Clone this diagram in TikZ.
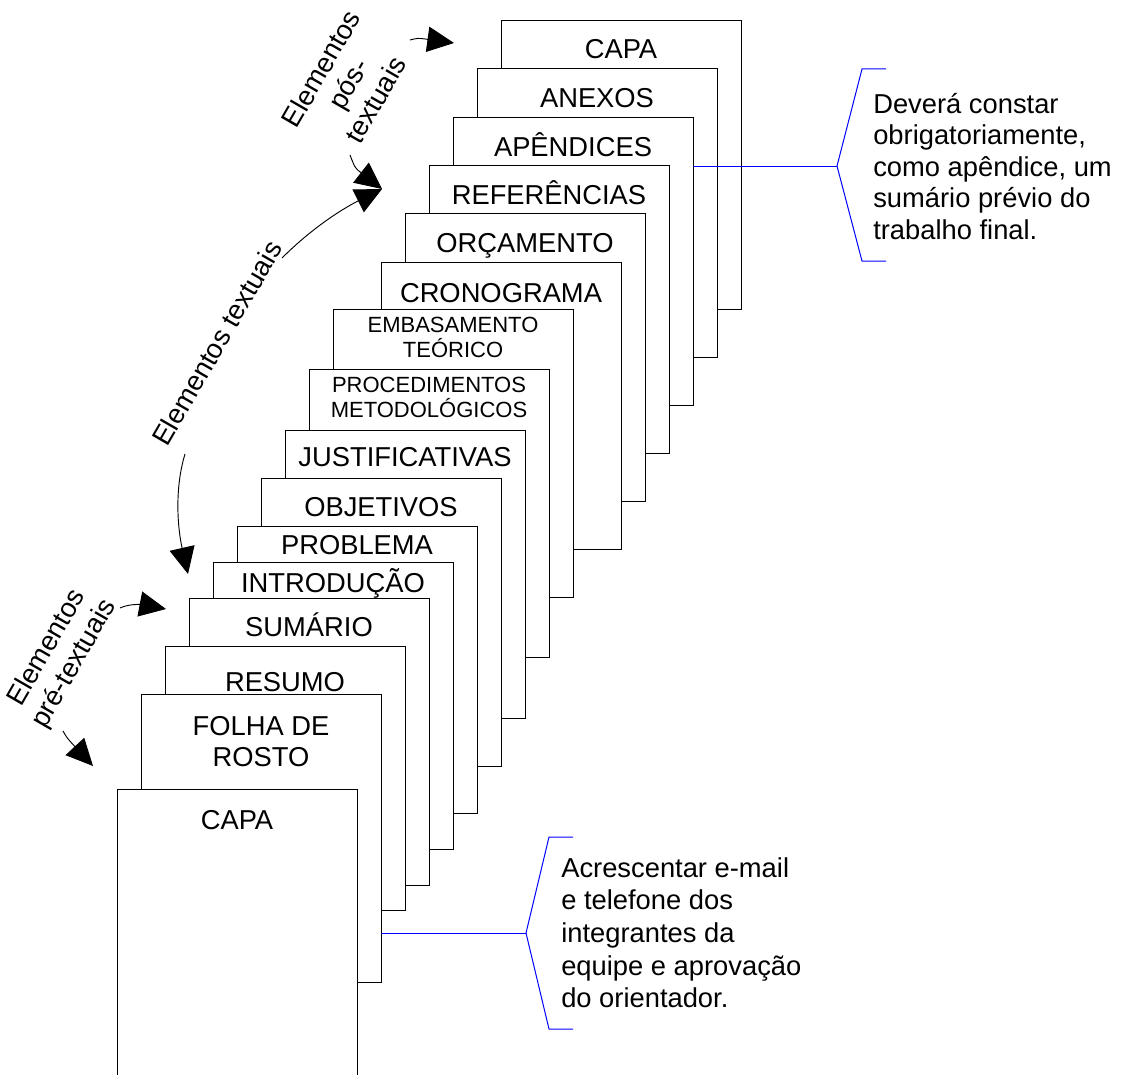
\documentclass[tikz,border=0pt]{standalone}
\usepackage{fontspec}
\setmainfont{Liberation Sans}
\usetikzlibrary{arrows.meta,calc}

\begin{document}
\begin{tikzpicture}[x=0.75pt,y=-0.75pt,
  folha/.style={draw=black,line width=0.75pt,fill=white,anchor=north west,
    minimum width=180pt,inner sep=0pt,outer sep=0pt},
  rotulo/.style={inner sep=0pt,align=center},
  seta/.style={line width=0.7pt,-{Triangle[length=20pt,width=19pt]}},
  chave/.style={blue,line width=0.75pt},
  nota/.style={inner sep=0pt,anchor=north west,align=left,font=\fontsize{20.5}{23.6}\selectfont},
  lado/.style={inner sep=0pt,align=center,rotate=60,font=\fontsize{20.5}{23.6}\selectfont}]
  \clip (0,0) rectangle (1123,1074);
  % --- sheets, from the back (upper right) to the front (lower left) ---
  \foreach \n/\x/\y/\h/\fs/\ls/\a/\ty/\txt in {
      16/501/21/288/20.5/24/base/58.6/CAPA,
      15/477/69/288/20.5/24/base/107.6/ANEXOS,
      14/453/117/288/20.5/24/base/156.6/APÊNDICES,
      13/429/165/288/20.5/24/base/204.6/REFERÊNCIAS,
      12/405/213/288/20.5/24/base/252.6/ORÇAMENTO,
      11/381/262/287/20.5/24/base/302.6/CRONOGRAMA,
      10/333/309/288/16.5/18.5/north/317/{EMBASAMENTO\\TEÓRICO},
      9/309/369/288/16.5/18.8/north/377/{PROCEDIMENTOS\\METODOLÓGICOS},
      8/285/430/288/20.5/24/base/466.6/JUSTIFICATIVAS,
      7/261/478/288/20.5/24/base/516.6/OBJETIVOS,
      6/237/526/287/20.5/24/base/554.6/PROBLEMA,
      5/213/562/287/20.5/24/base/592.6/INTRODUÇÃO,
      4/189/598/287/20.5/24/base/636.6/SUMÁRIO,
      3/165/646/264/20.5/24/base/691.6/RESUMO,
      2/141/694/288/20.5/23.3/north/716/{FOLHA DE\\ROSTO},
      1/117/789/288/20.5/24/base/829.6/CAPA}
  {
    \node[folha,minimum height=\h*0.75pt] (p\n) at (\x,\y) {};
    \node[rotulo,anchor=\a,font=\fontsize{\fs}{\ls}\selectfont] (t\n) at (\x+120,\ty) {\txt};
  }
  % --- side labels ---
  \node[lado] (pre) at (61,656) {Elementos\\pré-textuais};
  \node[lado] (tex) at (217,343) {Elementos textuais};
  \node[lado] (pos) at (348,84) {Elementos\\pós-\\textuais};
  % arrow ends
  \coordinate (pre1) at (120,608);
  \coordinate (pre2) at (166,609);
  \coordinate (pre3) at (63,731);
  \coordinate (pre4) at (93,766);
  \coordinate (tex1) at (185,454);
  \coordinate (tex2) at (188,574);
  \coordinate (tex3) at (282,258);
  \coordinate (ponta) at (382,189);
  \coordinate (pos1) at (350,155);
  \coordinate (pos2) at (410,40);
  \coordinate (pos3) at (454,43);
  \draw[seta] (pre1) .. controls (130,603) and (145,605) .. (pre2);
  \draw[seta] (pre3) .. controls (67,738) .. (pre4);
  \draw[seta] (tex1) .. controls (174,490) and (178,530) .. (tex2);
  \draw[seta] (tex3) .. controls (310,230) and (340,210) .. (ponta);
  \draw[seta] (pos1) .. controls (355,168) .. (ponta);
  \draw[seta] (pos2) .. controls (418,38) .. (pos3);
  % --- notes ---
  \coordinate (n1) at (837,166);
  \coordinate (n2) at (526,933);
  \draw[chave] (p14.east |- n1) -- (n1);
  \draw[chave] (886,69) -- (862,69) -- (n1) -- (862,261) -- (886,261);
  \draw[chave] (p2.east |- n2) -- (n2);
  \draw[chave] (573,837) -- (549,837) -- (n2) -- (549,1029) -- (573,1029);
  \node[nota] (nota1) at (873,93) {Deverá constar\\obrigatoriamente,\\como apêndice, um\\sumário prévio do\\trabalho final.};
  \node[nota,font=\fontsize{20.5}{24.5}\selectfont] (nota2) at (561,857) {Acrescentar e-mail\\e telefone dos\\integrantes da\\equipe e aprovação\\do orientador.};
\end{tikzpicture}
\end{document}
